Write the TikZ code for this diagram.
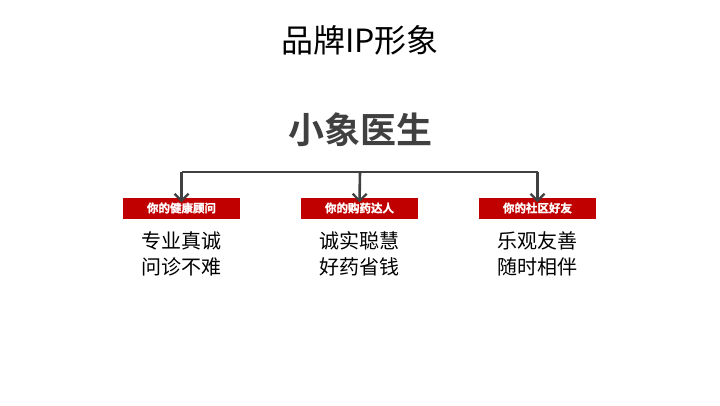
\documentclass[tikz,border=0pt]{standalone}
\usepackage{fontspec}
\usetikzlibrary{arrows.meta,positioning}
\newfontfamily\cjk[BoldFont={Noto Sans CJK SC Bold}]{Noto Sans CJK SC}
\newfontfamily\cjkheavy[FakeBold=1.5]{Noto Sans CJK SC Bold}
\definecolor{darkgray}{HTML}{404040}
\definecolor{brandred}{HTML}{C00000}

\begin{document}
\begin{tikzpicture}[x=1pt,y=-1pt,>={Straight Barb[length=7pt,width=14pt,line width=2.2pt]},
                    tag/.style={fill=brandred,text=white,font=\cjkheavy\fontsize{11.5}{11.5}\selectfont,
                                minimum width=117pt,minimum height=21pt,inner sep=0pt},
                    motto/.style={text=black,font=\cjk\fontsize{20}{26}\selectfont,align=center},
                    link/.style={draw=darkgray,line width=2.6pt}]
  \useasboundingbox (0,0) rectangle (720,405);

  \node[font=\cjk\fontsize{32}{32}\selectfont] (head) at (360,40) {品牌IP形象};
  \node[text=darkgray,font=\cjk\bfseries\fontsize{36}{36}\selectfont] (name) at (360,130) {小象医生};

  \node[tag] (care) at (181.5,208) {你的健康顾问};
  \node[tag] (shop) at (359.5,208) {你的购药达人};
  \node[tag] (pal)  at (537.5,208) {你的社区好友};

  \node[motto] (careT) [below=9pt of care.south] {专业真诚\\问诊不难};
  \node[motto] (shopT) [below=9pt of shop.south] {诚实聪慧\\好药省钱};
  \node[motto] (palT)  [below=9pt of pal.south]  {乐观友善\\随时相伴};

  \coordinate (hub) at (360,172);
  \path[link] (care.north |- hub) -- (pal.north |- hub);
  \draw[link,->] (care.north |- hub) -- ([yshift=-5pt]care.north);
  \draw[link,->] (hub) -- ([yshift=-5pt]shop.north);
  \draw[link,->] (pal.north |- hub) -- ([yshift=-5pt]pal.north);
\end{tikzpicture}
\end{document}
